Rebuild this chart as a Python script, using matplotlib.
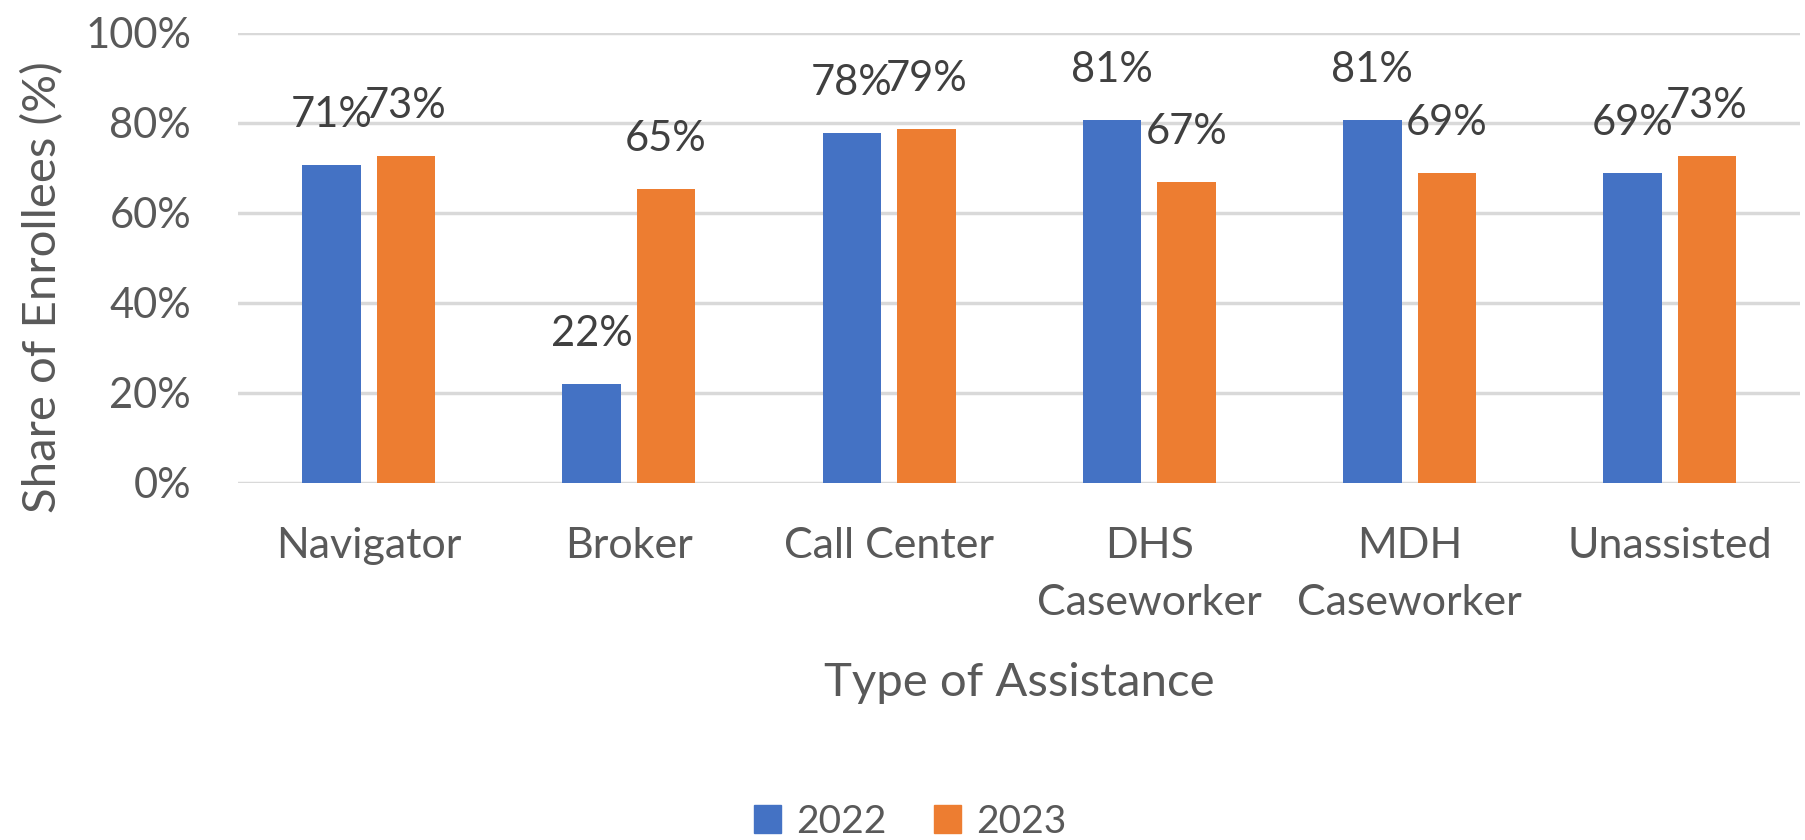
import numpy as np
import matplotlib
matplotlib.use("Agg")
import matplotlib.pyplot as plt
from matplotlib.patches import Patch

# values (share of enrollees, %)
categories = ["Navigator", "Broker", "Call Center", "DHS\nCaseworker", "MDH\nCaseworker", "Unassisted"]
years = ["2022", "2023"]
share_2022 = [70.6, 22.0, 77.8, 80.6, 80.6, 68.8]
share_2023 = [72.6, 65.2, 78.6, 66.9, 68.8, 72.6]
y_ticks = [0, 20, 40, 60, 80, 100]

blue = "#4472c4"
orange = "#ed7d31"
grey_text = "#595959"
label_text = "#404040"
grid_col = "#d9d9d9"

plt.rcParams['font.family'] = ['Lato', 'DejaVu Sans']

fig = plt.figure(figsize=(18.06, 8.4), dpi=100)
ax = fig.add_axes([0.132, 0.425, 0.8647, 0.5363])

x = np.arange(len(categories))
w = 0.2246
off = 0.143
b1 = ax.bar(x - off, share_2022, w, color=blue, zorder=3)
b2 = ax.bar(x + off, share_2023, w, color=orange, zorder=3)

for bars, vals in ((b1, share_2022), (b2, share_2023)):
    for rect, v in zip(bars, vals):
        ax.annotate(f"{v:.0f}%", (rect.get_x() + rect.get_width() / 2, v),
                    xytext=(0, 36), textcoords="offset points",
                    ha="center", va="center", fontsize=30, color=label_text, zorder=4)

ax.set_xlim(-0.5, len(categories) - 0.5)
ax.set_ylim(0, 100)
ax.set_yticks(y_ticks)
ax.set_yticklabels([f"{t}%" for t in y_ticks])
ax.set_xticks(x)
ax.set_xticklabels(categories, linespacing=1.6)
ax.yaxis.grid(True, color=grid_col, linewidth=2.5, zorder=0)
ax.set_axisbelow(True)
for s in ax.spines.values():
    s.set_visible(False)
ax.tick_params(axis="y", length=0, labelsize=30, labelcolor=grey_text, pad=34)
ax.tick_params(axis="x", length=0, labelsize=31, labelcolor=grey_text, pad=32)

ax.set_ylabel("Share of Enrollees (%)", fontsize=34, color=grey_text, va="center")
ax.yaxis.set_label_coords(-0.1255, 0.435)
ax.set_xlabel("Type of Assistance", fontsize=34, color=grey_text, va="center")
ax.xaxis.set_label_coords(0.5, -0.444)

handles = [Patch(color=blue, label=years[0]), Patch(color=orange, label=years[1])]
fig.legend(handles=handles, loc="center", bbox_to_anchor=(0.504, 0.022), ncol=2,
           frameon=False, fontsize=28, labelcolor=grey_text,
           handlelength=0.7, handleheight=0.7, handletextpad=0.4, columnspacing=1.2)

fig.savefig("out.png", dpi=100)
